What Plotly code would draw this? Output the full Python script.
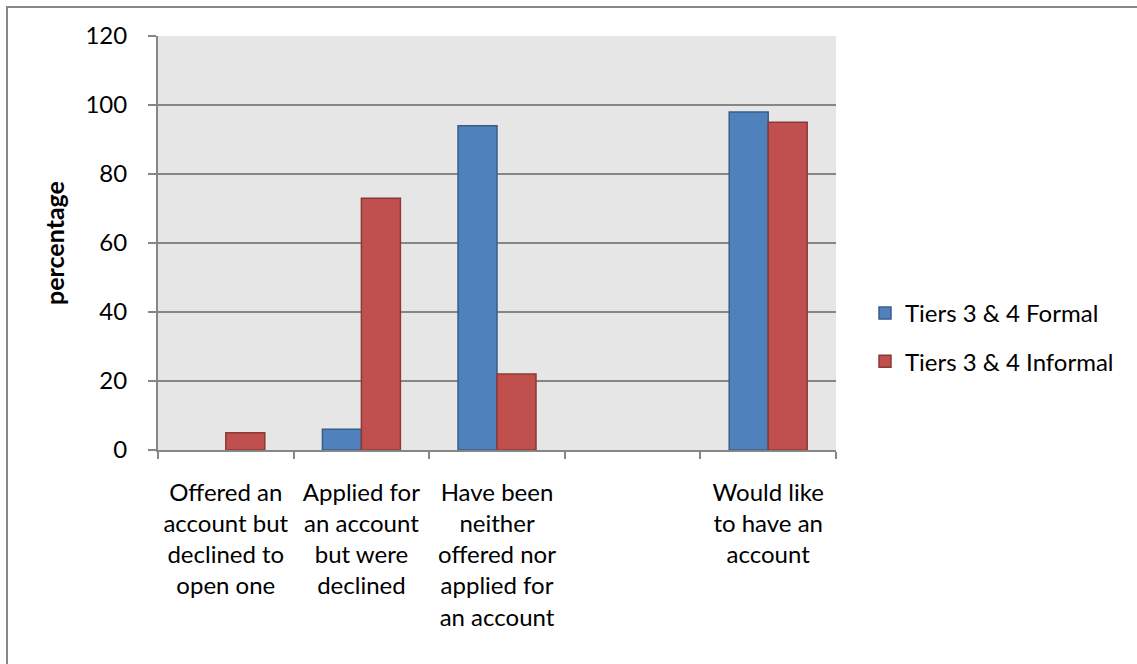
import plotly.graph_objects as go

categories = [
    "Offered an<br>account but<br>declined to<br>open one",
    "Applied for<br>an account<br>but were<br>declined",
    "Have been<br>neither<br>offered nor<br>applied for<br>an account",
    " ",
    "Would like<br>to have an<br>account",
]
formal = [None, 6, 94, None, 98]
informal = [5, 73, 22, None, 95]
series_names = ["Tiers 3 & 4 Formal", "Tiers 3 & 4 Informal"]
y_ticks = [0, 20, 40, 60, 80, 100, 120]

W, H = 1137, 664
L, R, T, B = 158, 836, 36, 450
pw, ph = R - L, B - T

FONT = "Lato"
GRAY = "#868686"

fig = go.Figure()
fig.add_trace(go.Bar(
    x=categories, y=formal, name=series_names[0], legendgroup="a",
    marker=dict(color="#4f81bd", line=dict(color="#385d8a", width=1.5)),
))
fig.add_trace(go.Bar(
    x=categories, y=informal, name=series_names[1], legendgroup="b",
    marker=dict(color="#c0504d", line=dict(color="#8c3836", width=1.5)),
))

def px_x(p):
    return (p - L) / pw

def px_y(p):
    return (B - p) / ph

fig.update_layout(
    width=W, height=H,
    margin=dict(l=L, r=W - R, t=T, b=H - B, pad=0),
    paper_bgcolor="white",
    plot_bgcolor="#e6e6e6",
    barmode="group",
    bargap=0.425,
    bargroupgap=0,
    font=dict(family=FONT, size=24, color="black"),
    showlegend=True,
    legend=dict(
        x=px_x(865), xanchor="left",
        y=px_y(291), yanchor="top",
        font=dict(family=FONT, size=24, color="black"),
        tracegroupgap=14,
        bgcolor="rgba(0,0,0,0)",
    ),
    xaxis=dict(
        type="category",
        tickson="boundaries",
        ticks="outside", ticklen=7, tickwidth=2, tickcolor=GRAY,
        showline=True, linecolor=GRAY, linewidth=2,
        showgrid=False,
        ticklabelstandoff=20,
        tickfont=dict(family=FONT, size=24),
        fixedrange=True,
    ),
    yaxis=dict(
        range=[0, 120],
        tickvals=y_ticks,
        ticks="outside", ticklen=8, tickwidth=2, tickcolor=GRAY,
        showline=True, linecolor=GRAY, linewidth=2,
        showgrid=True, gridcolor=GRAY, gridwidth=2,
        zeroline=False,
        ticklabelstandoff=16,
        tickfont=dict(family=FONT, size=24),
        title=dict(text="<b>percentage</b>", font=dict(family=FONT, size=25), standoff=14),
    ),
    shapes=[dict(
        type="rect", xref="paper", yref="paper",
        x0=px_x(7), x1=px_x(1160), y0=px_y(7), y1=px_y(690),
        line=dict(color="#878787", width=2), fillcolor="rgba(0,0,0,0)",
        layer="below",
    )],
)

fig.write_html("out.html")
